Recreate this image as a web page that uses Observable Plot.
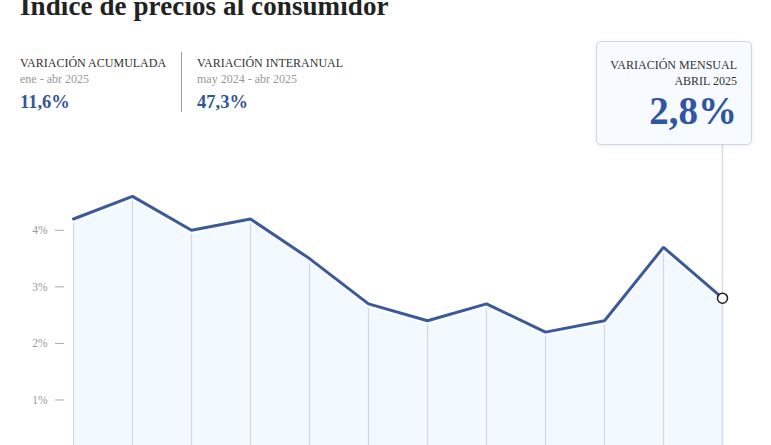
<!DOCTYPE html>
<html>
<head>
<meta charset="utf-8">
<script src="https://cdn.jsdelivr.net/npm/d3@7"></script>
<script src="https://cdn.jsdelivr.net/npm/@observablehq/plot@0.6"></script>
<style>
  html, body { margin: 0; padding: 0; background: #fff; }
  body { width: 771px; height: 445px; overflow: hidden; position: relative; font-family: "Liberation Serif", "Times New Roman", serif; }
  #title { position: absolute; left: 20px; top: -9px; font-size: 27px; font-weight: bold; color: #222; white-space: nowrap; letter-spacing: 0.1px; line-height: 30px; z-index: 3; }
  .stat { position: absolute; top: 55px; }
  .stat .lbl { font-size: 12px; color: #333; line-height: 16px; }
  .stat .sub { font-size: 12px; color: #999; line-height: 16px; }
  .stat .val { font-size: 18.5px; font-weight: bold; color: #34569a; line-height: 30px; }
  #divider { position: absolute; left: 181px; top: 52px; width: 1px; height: 60px; background: #999; }
  #chart { position: absolute; left: 0; top: 0; }
  #box { position: absolute; left: 596px; top: 41px; width: 156px; height: 104px; box-sizing: border-box; border: 1px solid #ccd7e8; border-radius: 5px; background: #f7fbff; box-shadow: 0 1px 4px rgba(0,0,0,0.08); text-align: right; padding: 15px 14px 0 0; z-index: 2; }
  #box .lbl { font-size: 12px; color: #333; line-height: 16px; }
  #box .big { font-size: 39px; font-weight: bold; color: #2f55a4; line-height: 40px; margin-top: 2px; }
</style>
</head>
<body>
<script>
// Data
const months = ["may 2024","jun 2024","jul 2024","ago 2024","sep 2024","oct 2024","nov 2024","dic 2024","ene 2025","feb 2025","mar 2025","abr 2025"];
const monthly = [4.2, 4.6, 4.0, 4.2, 3.5, 2.7, 2.4, 2.7, 2.2, 2.4, 3.7, 2.8];
const yTicks = [1, 2, 3, 4];
const titleText = "Índice de precios al consumidor";
const statLabels = ["VARIACIÓN ACUMULADA", "VARIACIÓN INTERANUAL"];
const statPeriods = ["ene - abr 2025", "may 2024 - abr 2025"];
const statValues = ["11,6%", "47,3%"];
const highlightLabel = ["VARIACIÓN MENSUAL", "ABRIL 2025"];
const highlightValue = "2,8%";

const data = months.map((m, i) => ({month: m, v: monthly[i]}));
const last = data[data.length - 1];

const title = document.createElement("div");
title.id = "title";
title.textContent = titleText;
document.body.appendChild(title);

const lefts = [20, 197];
statLabels.forEach((l, i) => {
  const d = document.createElement("div");
  d.className = "stat";
  d.style.left = lefts[i] + "px";
  d.innerHTML = `<div class="lbl">${l}</div><div class="sub">${statPeriods[i]}</div><div class="val">${statValues[i]}</div>`;
  document.body.appendChild(d);
});
const div = document.createElement("div");
div.id = "divider";
document.body.appendChild(div);

const lineColor = "#3a5a9c";
const plot = Plot.plot({
  width: 771,
  height: 456,
  marginTop: 145,
  marginBottom: 0,
  marginLeft: 72,
  marginRight: 48,
  style: {fontFamily: "Liberation Serif, serif", fontSize: "11.5px", background: "transparent"},
  x: {type: "point", domain: months, padding: 0, axis: null},
  y: {domain: [0, 5.5], axis: null},
  marks: [
    Plot.areaY(data, {x: "month", y: "v", fill: "#f2faff"}),
    Plot.ruleX(data, {x: "month", y1: 0, y2: "v", stroke: "#d3d9df", strokeWidth: 1.2}),
    Plot.ruleX([last], {x: "month", stroke: "#d9dde2", strokeWidth: 1.5}),
    Plot.axisY({ticks: yTicks, tickSize: 9, tickPadding: 8, dx: -8, label: null, tickFormat: d => d + "%", stroke: "#aaa", color: "#999", fill: "#999"}),
    Plot.line(data, {x: "month", y: "v", stroke: "#fff", strokeWidth: 7, strokeLinejoin: "miter"}),
    Plot.line(data, {x: "month", y: "v", stroke: lineColor, strokeWidth: 3, strokeLinejoin: "miter"}),
    Plot.dot([last], {x: "month", y: "v", r: 5, fill: "#fff", stroke: "#222", strokeWidth: 1.5})
  ]
});
plot.id = "chart";
document.body.appendChild(plot);

const box = document.createElement("div");
box.id = "box";
box.innerHTML = `<div class="lbl">${highlightLabel[0]}</div><div class="lbl">${highlightLabel[1]}</div><div class="big">${highlightValue}</div>`;
document.body.appendChild(box);
</script>
</body>
</html>
